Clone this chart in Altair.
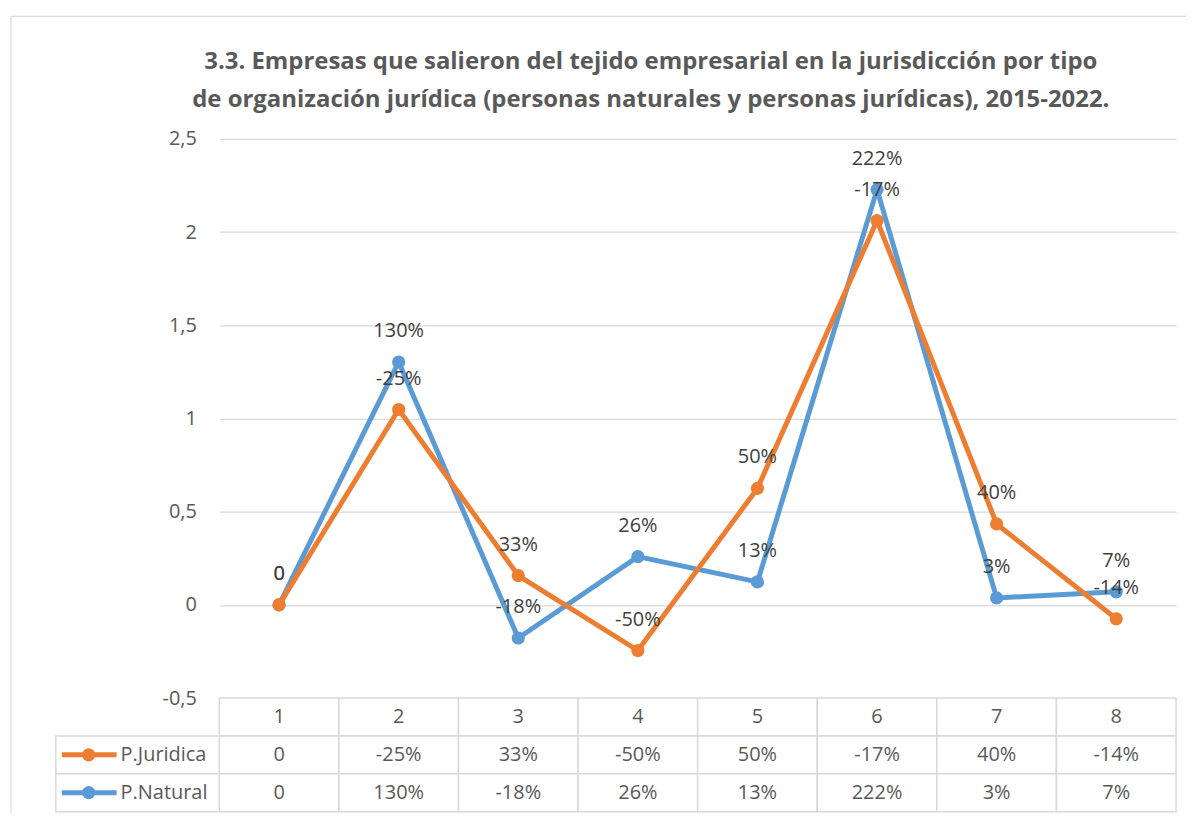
import altair as alt
import pandas as pd

# ---- data ----
categories = ["1", "2", "3", "4", "5", "6", "7", "8"]
juridica_values = [0, 1.048, 0.157, -0.245, 0.625, 2.062, 0.434, -0.075]
natural_values = [0, 1.303, -0.178, 0.259, 0.123, 2.228, 0.037, 0.070]
juridica_labels = ["0", "-25%", "33%", "-50%", "50%", "-17%", "40%", "-14%"]
natural_labels = ["0", "130%", "-18%", "26%", "13%", "222%", "3%", "7%"]
series_names = ["P.Juridica", "P.Natural"]
series_colors = ["#ED7D31", "#5B9BD5"]
y_ticks = [-0.5, 0, 0.5, 1, 1.5, 2, 2.5]
title_lines = [
    "3.3. Empresas que salieron del tejido empresarial en la jurisdicción por tipo",
    "de organización jurídica (personas naturales y personas jurídicas), 2015-2022.",
]

FONT = "Open Sans"
GRID = "#d9d9d9"
TXT = "#595959"

rows = []
for s, vals, labs in [
    (series_names[0], juridica_values, juridica_labels),
    (series_names[1], natural_values, natural_labels),
]:
    for c, v, l in zip(categories, vals, labs):
        rows.append({"series": s, "cat": c, "value": v, "label": l})
df = pd.DataFrame(rows)

color = alt.Color(
    "series:N",
    scale=alt.Scale(domain=series_names, range=series_colors),
    legend=None,
)
x_enc = alt.X(
    "cat:O", sort=categories, scale=alt.Scale(type="point", padding=0.5), axis=None
)
y_enc = alt.Y(
    "value:Q",
    scale=alt.Scale(domain=[-0.5, 2.5], nice=False, zero=False),
    axis=alt.Axis(
        values=y_ticks,
        title=None,
        domain=False,
        ticks=False,
        grid=True,
        gridColor=GRID,
        gridWidth=1.2,
        labelFont=FONT,
        labelFontSize=20,
        labelColor=TXT,
        labelPadding=23,
        labelExpr="(datum.value < 0 ? '-' : '') + replace(toString(abs(datum.value)), '.', ',')",
    ),
)

base = alt.Chart(df).encode(x=x_enc, y=y_enc, color=color)


def series_layers(name):
    b = base.transform_filter(alt.datum.series == name)
    line = b.mark_line(strokeWidth=5)
    pts = b.mark_point(filled=True, size=175, opacity=1)
    return line, pts


nat_line, nat_pts = series_layers("P.Natural")
jur_line, jur_pts = series_layers("P.Juridica")

labels = base.mark_text(
    dy=-31, fontSize=20, font=FONT, color="#404040"
).encode(text="label:N", color=alt.value("#404040"))

top = alt.layer(nat_line, nat_pts, jur_line, jur_pts, labels).properties(
    width=960,
    height=561,
    title=alt.TitleParams(
        title_lines,
        font=FONT,
        fontSize=24,
        fontWeight="bold",
        color=TXT,
        anchor="middle",
        frame="group",
        dx=-47,
        offset=17,
        lineHeight=38,
    ),
)

# ---- data table below the plot ----
row_order = ["hdr"] + series_names
trows = []
for c in categories:
    trows.append({"row": "hdr", "cat": c, "text": c})
for s, labs in [(series_names[0], juridica_labels), (series_names[1], natural_labels)]:
    for c, l in zip(categories, labs):
        trows.append({"row": s, "cat": c, "text": l})
tdf = pd.DataFrame(trows)

tx = alt.X(
    "cat:N",
    sort=categories,
    scale=alt.Scale(type="band", paddingInner=0, paddingOuter=0),
    axis=None,
)
ty = alt.Y(
    "row:N",
    sort=row_order,
    scale=alt.Scale(domain=row_order, type="band", paddingInner=0, paddingOuter=0),
    axis=None,
)
ty_mid = alt.Y(
    "row:N",
    sort=row_order,
    bandPosition=0.5,
    scale=alt.Scale(domain=row_order, type="band", paddingInner=0, paddingOuter=0),
    axis=None,
)

tbase = alt.Chart(tdf)
cells = tbase.mark_rect(fill="white", stroke=GRID, strokeWidth=1.5).encode(x=tx, y=ty)
ctext = tbase.mark_text(fontSize=20, font=FONT, color=TXT).encode(
    x=tx, y=ty, text="text:N"
)

ldf = pd.DataFrame({"row": series_names, "series": series_names})
lbase = alt.Chart(ldf)
lcells = lbase.mark_rect(fill="white", stroke=GRID, strokeWidth=1.5).encode(
    x=alt.value(-164), x2=alt.value(0), y=ty
)
lrule = lbase.mark_rule(strokeWidth=5).encode(
    x=alt.value(-158), x2=alt.value(-103), y=ty_mid, color=color
)
ldot = lbase.mark_point(filled=True, size=175, opacity=1).encode(
    x=alt.value(-131), y=ty, color=color
)
ltext = lbase.mark_text(align="left", fontSize=20, font=FONT, color=TXT).encode(
    x=alt.value(-99), y=ty, text="row:N"
)

# chart-area frame (top and left edges), relative to the table's origin
frame = pd.DataFrame({"k": [0]})
border_top = alt.Chart(frame).mark_rule(color=GRID, strokeWidth=1.2).encode(
    x=alt.value(-209), x2=alt.value(970), y=alt.value(-684)
)
border_left = alt.Chart(frame).mark_rule(color=GRID, strokeWidth=1.2).encode(
    x=alt.value(-209), y=alt.value(-684), y2=alt.value(115)
)

table = alt.layer(
    border_top, border_left, cells, ctext, lcells, lrule, ldot, ltext
).properties(width=960, height=114)

chart = (
    alt.vconcat(top, table, spacing=0, bounds="flush")
    .properties(padding={"left": 2, "top": 6, "right": 0, "bottom": 0})
    .configure_view(strokeWidth=0)
)

chart.save("out.html", embed_options={"renderer": "svg", "actions": False})
